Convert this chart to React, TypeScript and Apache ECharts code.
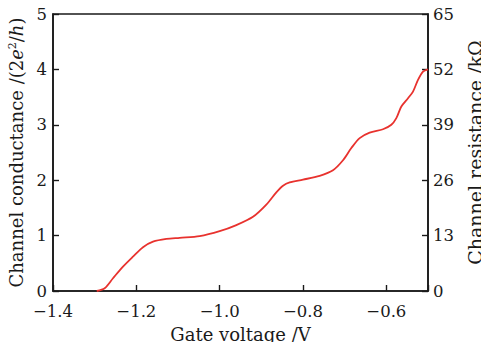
import React, { useEffect, useRef } from "react";
import * as echarts from "echarts";

const gateVoltage = [-1.295, -1.276, -1.256, -1.232, -1.208, -1.184, -1.16, -1.128, -1.096, -1.048, -1.0, -0.96, -0.92, -0.888, -0.864, -0.848, -0.832, -0.8, -0.76, -0.728, -0.704, -0.684, -0.664, -0.64, -0.608, -0.588, -0.576, -0.564, -0.548, -0.536, -0.524, -0.512, -0.5];
const conductance = [0, 0.05, 0.23, 0.44, 0.62, 0.79, 0.89, 0.94, 0.96, 0.99, 1.08, 1.19, 1.34, 1.56, 1.78, 1.9, 1.96, 2.01, 2.08, 2.18, 2.36, 2.58, 2.76, 2.86, 2.92, 3.0, 3.12, 3.33, 3.48, 3.6, 3.81, 3.96, 4.0];

const FONT = "DejaVu Serif";
const INK = "#1a1a1a";

export default function App() {
  const ref = useRef<HTMLDivElement>(null);
  useEffect(() => {
    const chart = echarts.init(ref.current!, undefined, { renderer: "svg" });
    const axisLine = { show: true, lineStyle: { color: INK, width: 1.6 } };
    const axisTick = { show: true, inside: true, length: 6, lineStyle: { color: INK, width: 1.4 } };
    const axisLabelBase = { color: INK, fontFamily: FONT, fontSize: 16.5 };
    chart.setOption({
      animation: false,
      backgroundColor: "#ffffff",
      grid: {
        left: 53,
        right: 53,
        top: 14,
        bottom: 51,
        containLabel: false,
        outerBoundsMode: "none",
        show: true,
        borderColor: INK,
        borderWidth: 1.6,
        backgroundColor: "transparent",
      },
      xAxis: {
        type: "value",
        min: -1.4,
        max: -0.5,
        interval: 0.2,
        axisLine,
        axisTick,
        splitLine: { show: false },
        axisLabel: {
          ...axisLabelBase,
          margin: 12,
          formatter: (v: number) => (Math.abs(v + 0.5) < 1e-6 ? "" : v.toFixed(1).replace("-", "\u2212")),
        },
        name: "Gate voltage /V",
        nameLocation: "middle",
        nameGap: 29,
        nameTextStyle: { color: INK, fontFamily: FONT, fontSize: 18, lineHeight: 20 },
      },
      yAxis: [
        {
          type: "value",
          min: 0,
          max: 5,
          interval: 1,
          position: "left",
          axisLine,
          axisTick,
          splitLine: { show: false },
          axisLabel: { ...axisLabelBase, margin: 6 },
          name: "{t|Channel conductance /(2}{i|e}{s|2}{t|/}{i|h}{t|)}",
          nameLocation: "middle",
          nameRotate: 90,
          nameGap: 26,
          nameTextStyle: {
            rich: {
              t: { color: INK, fontFamily: FONT, fontSize: 18 },
              i: { color: INK, fontFamily: FONT, fontSize: 18, fontStyle: "italic" },
              s: { color: INK, fontFamily: FONT, fontSize: 11, verticalAlign: "top", padding: [0, 0, 9, 0] },
            },
          },
        },
        {
          type: "value",
          min: 0,
          max: 65,
          interval: 13,
          position: "right",
          axisLine,
          axisTick,
          splitLine: { show: false },
          axisLabel: { ...axisLabelBase, margin: 5 },
          name: "Channel resistance /k\u03A9",
          nameLocation: "middle",
          nameRotate: 90,
          nameGap: 28,
          nameTextStyle: { color: INK, fontFamily: FONT, fontSize: 19, lineHeight: 20 },
        },
      ],
      series: [
        {
          type: "line",
          yAxisIndex: 0,
          data: gateVoltage.map((x, i) => [x, conductance[i]]),
          smooth: 0.3,
          showSymbol: false,
          lineStyle: { color: "#e8322e", width: 1.8 },
        },
      ],
    });
    return () => chart.dispose();
  }, []);
  return <div ref={ref} style={{ width: 481, height: 342, position: "absolute", left: 0, top: 0 }} />;
}
